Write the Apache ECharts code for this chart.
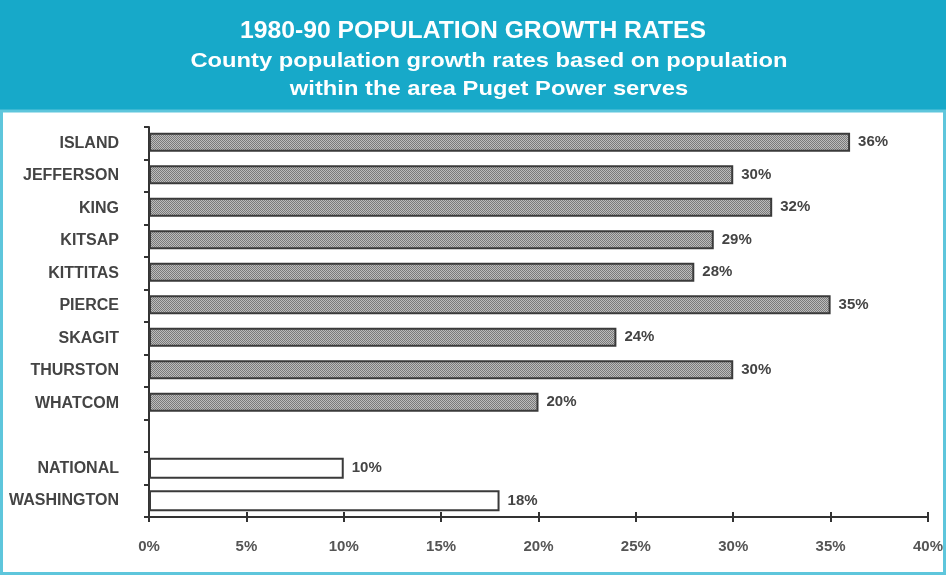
<!DOCTYPE html>
<html>
<head>
<meta charset="utf-8">
<script src="https://cdn.jsdelivr.net/npm/echarts@6/dist/echarts.min.js"></script>
<style>
html,body{margin:0;padding:0;background:#fff;}
#chart{width:946px;height:575px;}
</style>
</head>
<body>
<div id="chart"></div>
<script>
// ---- data ----
var categories = ['ISLAND','JEFFERSON','KING','KITSAP','KITTITAS','PIERCE','SKAGIT','THURSTON','WHATCOM','','NATIONAL','WASHINGTON'];
var countyValues = [36,30,32,29,28,35,24,30,20,'-','-','-'];
var referenceValues = ['-','-','-','-','-','-','-','-','-','-',10,18];
var xTicks = [0,5,10,15,20,25,30,35,40];
var titleText = '1980-90 POPULATION GROWTH RATES';
var subtitleLines = ['County population growth rates based on population','within the area Puget Power serves'];

// stipple pattern for county bars
var pat = document.createElement('canvas');
pat.width = 2; pat.height = 2;
var pc = pat.getContext('2d');
pc.fillStyle = '#bcbcbc'; pc.fillRect(0,0,2,2);
pc.fillStyle = '#7a7a7a'; pc.fillRect(0,0,1,1); pc.fillRect(1,1,1,1);

var chart = echarts.init(document.getElementById('chart'));
var labelFont = {fontFamily:'Liberation Sans, Arial, sans-serif', fontWeight:'bold', fontSize:16, color:'#444'};

chart.setOption({
  animation:false,
  backgroundColor:'#ffffff',
  graphic:[
    {type:'rect', z:-10, shape:{x:0,y:0,width:946,height:112}, style:{fill:'#17a9c9'}},
    {type:'rect', z:-10, shape:{x:1.5,y:111,width:943,height:462.5}, style:{fill:'none', stroke:'#5ec6dc', lineWidth:3}},
    {type:'text', x:473, y:31, scaleX:1.03, style:{text:titleText, align:'center', verticalAlign:'middle', fill:'#ffffff', font:'bold 24px "Liberation Sans", Arial, sans-serif'}},
    {type:'text', x:489, y:61, scaleX:1.13, style:{text:subtitleLines[0], align:'center', verticalAlign:'middle', fill:'#ffffff', font:'bold 21px "Liberation Sans", Arial, sans-serif'}},
    {type:'text', x:489, y:89, scaleX:1.13, style:{text:subtitleLines[1], align:'center', verticalAlign:'middle', fill:'#ffffff', font:'bold 21px "Liberation Sans", Arial, sans-serif'}}
  ],
  grid:{left:149, right:18, top:127, bottom:58, containLabel:false},
  xAxis:[{
    type:'value', min:0, max:40, interval:5,
    axisLine:{show:true, lineStyle:{color:'#333', width:2}},
    axisTick:{show:true, length:5, lineStyle:{color:'#333', width:2}},
    splitLine:{show:false},
    axisLabel:{margin:22, formatter:function(v){return xTicks.indexOf(v)>=0 ? v+'%' : '';}, fontFamily:'Liberation Sans, Arial, sans-serif', fontWeight:'bold', fontSize:15, color:'#555'}
  },{
    type:'value', min:0, max:40, interval:5, position:'bottom',
    axisLine:{show:false},
    axisTick:{show:true, inside:true, length:5, lineStyle:{color:'#333', width:2}},
    axisLabel:{show:false}, splitLine:{show:false}
  }],
  yAxis:{
    type:'category', data:categories, inverse:true,
    axisLine:{show:true, lineStyle:{color:'#333', width:2}},
    axisTick:{show:true, length:5, lineStyle:{color:'#333', width:2}},
    axisLabel:Object.assign({margin:30}, labelFont)
  },
  series:[{
    type:'bar', name:'County', data:countyValues, barWidth:19, barGap:'-100%',
    itemStyle:{color:{image:pat, repeat:'repeat'}, borderColor:'#3a3a3a', borderWidth:2},
    label:Object.assign({show:true, position:'right', distance:8, formatter:'{c}%'}, labelFont, {fontSize:15})
  },{
    type:'bar', name:'Reference', data:referenceValues, barWidth:21, barGap:'-100%',
    itemStyle:{color:'#ffffff', borderColor:'#3a3a3a', borderWidth:2},
    label:Object.assign({show:true, position:'right', distance:8, formatter:'{c}%'}, labelFont, {fontSize:15})
  }]
});
</script>
</body>
</html>
